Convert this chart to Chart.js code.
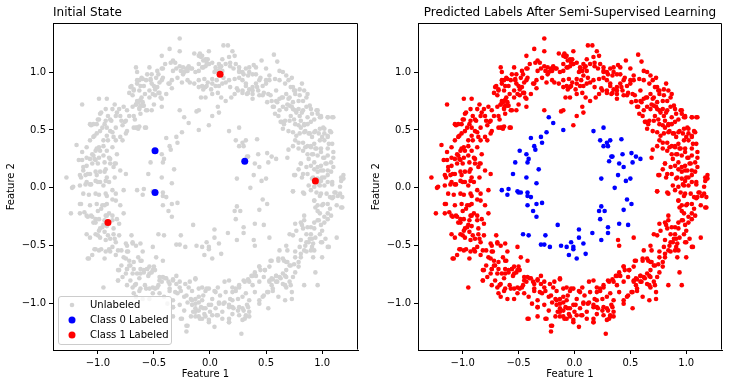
<!DOCTYPE html>
<html><head><meta charset="utf-8">
<script src="https://cdn.jsdelivr.net/npm/chart.js@4"></script>
<style>
html,body{margin:0;padding:0;background:#fff;}
#wrap{position:relative;width:729px;height:387px;overflow:hidden;}
#c1{position:absolute;left:0;top:0;}
#c2{position:absolute;left:365px;top:0;}
</style></head><body>
<div id="wrap">
<canvas id="c1" width="365" height="387"></canvas>
<canvas id="c2" width="364" height="387"></canvas>
</div>
<script>
// ---- data ----
const tickValues = [-1.0, -0.5, 0.0, 0.5, 1.0];
const xRange = [-1.40, 1.32];
const yRange = [-1.40, 1.42];

const labeledClass0 = [[-0.49,0.32],[-0.49,-0.04],[0.31,0.23]];
const labeledClass1 = [[0.09,0.98],[0.94,0.06],[-0.91,-0.30]];

const innerRing = [[-0.23,0.61],[-0.19,0.56],[-0.10,0.50],[-0.25,0.48],[-0.30,0.44],[-0.39,0.43],[-0.29,0.39],[-0.36,0.36],[-0.35,0.33],[-0.49,0.32],[-0.43,0.29],[-0.41,0.25],[-0.42,0.22],[-0.53,0.22],[-0.32,0.16],[-0.55,0.12],[-0.43,0.09],[-0.34,0.04],[-0.65,-0.02],[-0.59,-0.01],[-0.60,-0.06],[-0.51,-0.03],[-0.50,-0.04],[-0.48,-0.04],[-0.42,-0.04],[-0.42,-0.07],[-0.39,-0.08],[-0.29,-0.13],[-0.34,-0.14],[-0.42,-0.15],[-0.37,-0.20],[-0.34,-0.25],[-0.15,-0.32],[-0.46,-0.40],[-0.41,-0.41],[-0.26,-0.41],[-0.30,-0.49],[-0.27,-0.49],[-0.22,-0.51],[-0.12,-0.50],[-0.07,-0.51],[-0.03,-0.47],[-0.01,-0.51],[-0.01,-0.53],[-0.05,-0.58],[0.02,-0.61],[0.04,-0.36],[0.04,-0.43],[0.08,-0.48],[0.10,-0.57],[0.16,-0.39],[0.24,-0.45],[0.30,-0.39],[0.30,-0.34],[0.23,-0.27],[0.22,-0.20],[0.24,-0.16],[0.27,-0.20],[0.40,-0.31],[0.48,-0.32],[0.44,-0.19],[0.51,-0.14],[0.47,-0.10],[0.36,0.00],[0.24,0.08],[0.46,0.06],[0.50,0.08],[0.39,0.11],[0.44,0.18],[0.40,0.21],[0.52,0.22],[0.31,0.23],[0.33,0.27],[0.34,0.27],[0.43,0.29],[0.51,0.30],[0.55,0.27],[0.59,0.25],[0.26,0.36],[0.30,0.36],[0.29,0.39],[0.23,0.41],[0.32,0.41],[0.42,0.42],[0.17,0.49],[0.26,0.52]];

const ringTop = [[-0.27,1.29],[-0.36,1.20],[-0.27,1.18],[-0.43,1.14],[-0.33,1.10],[-0.35,1.08],[-0.40,1.07],[-0.31,1.08],[-0.43,1.03],[-0.30,1.03],[-0.27,1.05],[-0.24,1.04],[-0.21,1.03],[-0.19,1.04],[-0.26,1.01],[-0.23,1.00],[-0.20,1.01],[-0.17,1.03],[-0.33,1.01],[-0.66,1.04],[-0.65,1.00],[-0.54,1.04],[-0.52,0.98],[-0.47,1.01],[-0.42,1.03],[-0.42,0.95],[-0.48,0.95],[-0.45,0.91],[-0.53,0.93],[-0.57,0.93],[-0.60,0.94],[-0.63,0.93],[-0.65,0.90],[-0.71,0.87],[-0.68,0.85],[-0.72,0.82],[-0.69,0.80],[-0.63,0.84],[-0.59,0.88],[-0.50,0.88],[-0.47,0.87],[-0.45,0.82],[-0.51,0.81],[-0.54,0.78],[-0.43,0.77],[-0.36,0.90],[-0.34,0.86],[-0.39,0.81],[-0.43,0.70],[-0.29,0.95],[-0.25,0.91],[-0.20,0.93],[-0.14,0.90],[-0.10,0.93],[-0.05,0.94],[-0.02,0.91],[0.02,0.94],[-0.10,1.01],[-0.07,1.04],[-0.04,1.05],[-0.01,1.07],[-0.06,1.10],[-0.02,1.11],[0.02,1.08],[0.05,1.04],[0.07,1.01],[0.08,1.07],[0.10,1.05],[0.11,1.01],[-0.14,1.16],[-0.10,1.14],[-0.08,1.13],[-0.01,1.18],[-0.04,1.11],[0.04,1.00],[0.08,0.97],[0.11,1.11],[0.17,1.13],[0.18,1.08],[0.20,1.18],[0.22,1.14],[0.16,1.23],[0.12,1.23],[0.23,1.07],[0.26,1.04],[0.26,1.01],[0.29,1.00],[0.32,1.03],[0.35,1.00],[0.38,0.98],[0.34,0.97],[0.41,1.04],[0.46,1.10],[0.50,1.03],[0.57,1.15],[0.60,1.09],[0.62,1.01],[0.65,1.00],[0.68,0.97],[0.70,0.93],[0.73,0.95],[0.62,0.93],[0.58,0.94],[0.53,0.93],[0.50,0.90],[0.47,0.88],[0.44,0.93],[0.41,0.90],[0.38,0.87],[0.35,0.85],[0.32,0.90],[0.29,0.93],[0.26,0.95],[0.22,0.94],[0.17,0.93],[0.14,0.91],[0.11,0.90],[0.08,0.88],[0.05,0.88],[0.01,0.85],[-0.04,0.87],[-0.06,0.85],[-0.10,0.87],[-0.08,0.78],[-0.04,0.78],[0.02,0.81],[0.07,0.82],[0.10,0.78],[0.14,0.75],[0.19,0.78],[0.22,0.81],[0.25,0.84],[0.29,0.84],[0.34,0.82],[0.38,0.81],[0.43,0.84],[0.47,0.80],[0.52,0.81],[0.55,0.75],[0.59,0.75],[0.62,0.77],[0.65,0.78],[0.68,0.81],[0.71,0.78],[0.76,0.81],[0.80,0.80],[0.82,0.90],[0.80,0.85],[0.74,0.87],[0.76,0.84],[0.84,0.84],[0.87,0.81],[0.86,0.78],[0.83,0.75],[0.79,0.75],[0.74,0.74],[0.71,0.71],[0.68,0.68],[0.65,0.70],[0.62,0.67],[0.61,0.62],[0.58,0.64],[0.56,0.70],[0.74,0.68],[0.77,0.65],[0.80,0.62],[0.83,0.67],[0.86,0.70],[0.89,0.71],[0.90,0.68],[0.95,0.67],[0.96,0.64],[0.98,0.61],[0.99,0.62],[1.05,0.61],[1.10,0.61],[0.93,0.59],[0.90,0.57],[0.87,0.55],[0.84,0.54],[0.81,0.52],[0.79,0.54],[0.76,0.55],[0.71,0.58],[0.67,0.58],[0.64,0.57],[0.65,0.51],[0.70,0.49],[0.74,0.48],[0.77,0.45],[0.80,0.47],[0.84,0.48],[0.89,0.47],[0.93,0.48],[0.98,0.51],[1.01,0.52],[1.02,0.47],[1.07,0.49],[1.05,0.44],[1.02,0.41],[0.98,0.41],[0.93,0.38],[0.90,0.35],[0.87,0.36],[0.83,0.39],[0.79,0.39],[0.76,0.41],[0.74,0.36],[0.79,0.34],[0.83,0.32],[0.87,0.29],[0.92,0.29],[0.96,0.28],[1.01,0.26],[1.05,0.28],[1.10,0.26],[1.10,0.31],[1.05,0.34],[0.99,0.34],[0.95,0.34],[0.99,0.19],[1.04,0.21],[1.08,0.22],[1.10,0.18],[1.05,0.15],[1.01,0.15],[0.96,0.14],[0.93,0.16],[0.90,0.19],[0.86,0.18],[0.81,0.21],[0.79,0.16],[0.83,0.12],[0.87,0.12],[0.92,0.09],[0.96,0.08],[0.99,0.06],[1.02,0.09],[1.05,0.11],[1.02,0.02],[0.98,0.02],[0.93,0.01],[0.90,-0.02],[0.95,-0.04],[0.99,-0.05],[1.04,-0.05],[1.07,-0.08],[1.11,-0.04],[1.14,-0.07],[1.16,0.01],[1.17,0.09],[1.17,0.06],[1.09,0.05],[0.83,-0.04],[0.74,-0.03],[0.76,0.11],[0.02,0.62],[0.08,0.65],[0.07,0.70],[-0.01,0.54],[-0.10,0.67],[-0.12,0.66],[-0.27,0.67]];

const ringLeft = [[-0.99,0.77],[-0.92,0.77],[-1.14,0.72],[-1.19,0.37],[-1.28,0.09],[-1.07,0.55],[-1.04,0.55],[-1.01,0.55],[-0.99,0.59],[-0.98,0.64],[-0.93,0.68],[-0.87,0.68],[-0.85,0.72],[-0.81,0.68],[-0.80,0.62],[-0.84,0.62],[-0.89,0.59],[-0.93,0.58],[-0.96,0.52],[-1.01,0.47],[-1.04,0.44],[-1.07,0.41],[-1.10,0.35],[-1.14,0.31],[-1.17,0.24],[-1.14,0.24],[-1.10,0.26],[-1.05,0.29],[-1.02,0.32],[-0.99,0.35],[-0.95,0.41],[-0.92,0.45],[-0.87,0.48],[-0.84,0.52],[-0.78,0.54],[-0.75,0.58],[-0.72,0.62],[-0.74,0.67],[-0.77,0.70],[-0.69,0.70],[-0.66,0.72],[-0.63,0.68],[-0.60,0.71],[-0.57,0.67],[-0.65,0.75],[-0.68,0.62],[-0.66,0.52],[-0.63,0.53],[-0.57,0.52],[-0.75,0.47],[-0.80,0.44],[-0.84,0.41],[-0.87,0.35],[-0.92,0.32],[-0.95,0.28],[-0.99,0.26],[-1.02,0.24],[-1.05,0.21],[-1.10,0.19],[-1.13,0.15],[-1.16,0.11],[-1.11,0.11],[-1.07,0.12],[-1.02,0.14],[-0.98,0.14],[-0.93,0.16],[-0.89,0.21],[-0.84,0.21],[-0.78,0.41],[-0.83,0.29],[-0.90,0.26],[-0.93,0.06],[-0.98,0.05],[-1.02,0.06],[-1.07,0.03],[-1.11,0.03],[-1.16,0.02],[-1.23,0.00],[-0.90,0.05],[-0.84,-0.05],[-0.87,-0.02],[-0.92,-0.07],[-0.77,-0.02],[-0.75,0.12]];

const ringBottom = [[-1.24,-0.22],[-1.16,-0.14],[-1.16,-0.22],[-1.13,-0.05],[-1.08,-0.06],[-1.07,-0.15],[-1.10,-0.24],[-1.02,-0.05],[-0.99,-0.06],[-1.01,-0.14],[-0.96,-0.15],[-0.92,-0.14],[-0.93,-0.05],[-0.87,-0.10],[-0.84,-0.11],[-0.80,-0.15],[-1.05,-0.25],[-1.02,-0.30],[-0.99,-0.27],[-0.94,-0.28],[-0.93,-0.24],[-0.90,-0.22],[-0.87,-0.28],[-0.81,-0.31],[-0.77,-0.22],[-1.10,-0.40],[-1.07,-0.43],[-1.02,-0.40],[-0.99,-0.37],[-0.96,-0.34],[-0.92,-0.33],[-0.98,-0.43],[-0.93,-0.45],[-0.89,-0.44],[-0.86,-0.40],[-0.84,-0.47],[-0.87,-0.51],[-0.82,-0.54],[-1.02,-0.53],[-1.08,-0.61],[-1.05,-0.58],[-0.99,-0.54],[-0.94,-0.61],[-0.90,-0.53],[-0.95,-0.86],[-0.81,-0.71],[-0.77,-0.60],[-0.74,-0.55],[-0.72,-0.63],[-0.75,-0.48],[-0.69,-0.48],[-0.66,-0.50],[-0.62,-0.48],[-0.71,-0.67],[-0.68,-0.70],[-0.69,-0.74],[-0.74,-0.70],[-0.75,-0.74],[-0.78,-0.77],[-0.82,-0.80],[-0.74,-0.84],[-0.69,-0.86],[-0.66,-0.83],[-0.63,-0.78],[-0.62,-0.74],[-0.62,-0.63],[-0.59,-0.71],[-0.56,-0.70],[-0.54,-0.74],[-0.51,-0.71],[-0.50,-0.68],[-0.48,-0.60],[-0.42,-0.63],[-0.51,-0.51],[-0.60,-0.55],[-0.66,-0.94],[-0.68,-0.91],[-0.63,-0.89],[-0.57,-0.87],[-0.60,-0.96],[-0.54,-0.96],[-0.51,-0.91],[-0.51,-0.86],[-0.47,-0.86],[-0.45,-0.80],[-0.42,-0.77],[-0.39,-0.78],[-0.36,-0.83],[-0.33,-0.79],[-0.30,-0.83],[-0.27,-0.81],[-0.45,-0.91],[-0.41,-0.94],[-0.36,-0.89],[-0.33,-0.97],[-0.29,-0.91],[-0.26,-0.89],[-0.23,-0.94],[-0.20,-0.99],[-0.17,-0.96],[-0.19,-0.86],[-0.16,-0.89],[-0.13,-0.79],[-0.10,-0.87],[-0.07,-0.86],[-0.04,-0.89],[-0.01,-0.87],[0.04,-0.89],[0.07,-0.86],[0.13,-0.81],[0.17,-0.80],[0.20,-0.86],[0.23,-0.89],[0.26,-0.86],[0.31,-0.81],[0.34,-0.79],[0.37,-0.76],[0.41,-0.76],[0.44,-0.68],[0.49,-0.71],[0.53,-0.80],[0.56,-0.79],[0.59,-0.76],[0.62,-0.77],[0.65,-0.74],[0.68,-0.77],[0.71,-0.81],[0.74,-0.77],[0.59,-0.81],[0.55,-0.84],[0.56,-0.89],[0.52,-0.90],[0.47,-0.94],[0.44,-1.00],[0.52,-1.04],[0.61,-0.94],[0.67,-0.97],[0.73,-0.96],[0.68,-0.86],[0.76,-0.73],[0.79,-0.68],[0.71,-0.67],[0.68,-0.64],[0.65,-0.61],[0.61,-0.63],[0.55,-0.63],[0.62,-0.54],[0.68,-0.50],[0.71,-0.40],[0.74,-0.41],[0.77,-0.37],[0.76,-0.31],[0.81,-0.30],[0.84,-0.24],[0.83,-0.35],[0.86,-0.40],[0.90,-0.34],[0.93,-0.30],[0.96,-0.28],[0.98,-0.22],[1.02,-0.25],[1.05,-0.22],[1.07,-0.18],[1.01,-0.14],[0.96,-0.15],[0.93,-0.11],[0.98,-0.07],[1.10,-0.08],[1.13,-0.15],[1.17,-0.17],[1.16,-0.05],[0.81,-0.45],[0.86,-0.47],[0.89,-0.44],[0.92,-0.48],[0.90,-0.54],[0.86,-0.55],[0.81,-0.60],[0.80,-0.51],[0.76,-0.55],[0.94,-0.43],[0.98,-0.40],[0.99,-0.47],[1.05,-0.51],[1.13,-0.43],[0.92,-0.60],[0.94,-0.73],[0.96,-0.84],[0.84,-0.84],[0.68,-0.71],[-0.10,-0.94],[-0.13,-1.00],[-0.08,-1.03],[-0.04,-1.04],[0.01,-1.01],[0.05,-1.04],[0.08,-1.00],[0.13,-0.99],[0.17,-1.01],[0.20,-0.97],[0.25,-0.96],[0.29,-0.94],[0.32,-0.91],[0.35,-0.97],[0.34,-1.03],[0.29,-1.04],[0.25,-1.06],[0.20,-1.09],[0.17,-1.13],[0.31,-1.13],[0.32,-1.10],[0.26,-1.10],[0.11,-1.07],[0.07,-1.10],[0.02,-1.10],[-0.01,-1.16],[0.04,-1.20],[-0.05,-1.09],[-0.10,-1.11],[-0.13,-1.07],[-0.16,-1.01],[-0.17,-1.11],[-0.23,-1.06],[-0.26,-1.13],[-0.20,-1.19],[-0.21,-1.24],[-0.33,-1.11],[-0.33,-1.03],[-0.42,-1.13],[-0.38,-1.00],[-0.27,-1.01],[0.28,-1.26],[0.17,-1.16],[-0.07,-1.13],[-0.13,-1.04],[0.20,-1.03]];

const ringExtraTop = [[-0.64,0.74],[-0.62,0.76],[-0.60,0.74],[-0.62,0.71],[-0.66,0.72],[-0.63,0.69],[-0.59,0.71],[-0.61,0.78],[-0.68,0.84],[-0.70,0.88],[-0.65,0.93],[-0.61,0.95],[-0.56,0.98],[-0.53,0.94],[-0.52,0.90],[-0.49,0.85],[-0.46,0.82],[-0.43,0.93],[-0.46,0.98],[-0.37,0.90],[-0.34,0.93],[-0.49,0.80],[-0.50,0.72],[-0.56,0.67],[-0.62,0.64],[-0.67,0.59],[-0.65,0.52],[-0.68,0.52],[-0.74,0.49],[-0.76,0.57],[-0.79,0.58],[-0.83,0.65],[-0.88,0.58],[-0.92,0.52],[-0.89,0.49],[-0.86,0.44],[-0.91,0.41],[-0.95,0.36],[-0.98,0.32],[-1.01,0.34],[-1.04,0.28],[-1.07,0.25],[-1.03,0.25],[-1.00,0.21],[-0.94,0.22],[-0.89,0.25],[-0.85,0.21],[-0.86,0.18],[-0.94,0.14],[-1.01,0.11],[-1.09,0.12],[-1.13,0.18],[-1.15,0.09],[-1.10,0.05],[-1.06,0.03],[-1.00,0.05],[-0.95,0.02],[-0.92,0.09],[-0.85,0.09],[-0.80,0.15],[-1.03,0.45],[-0.98,0.49],[-0.94,0.55],[-0.91,0.62],[-0.97,0.65],[-1.00,0.59],[-1.06,0.54],[-0.19,1.05],[-0.21,1.01],[-0.16,1.03],[-0.13,1.00],[-0.10,1.07],[-0.06,1.04],[-0.03,1.08],[-0.07,1.14],[-0.09,1.16],[-0.24,0.98],[-0.18,0.91],[-0.07,0.88],[-0.03,0.88],[-0.62,0.88],[-0.58,0.81],[-0.54,0.84],[-0.44,0.78],[-0.52,0.67],[-0.58,0.52],[-0.64,0.51],
[0.67,0.90],[0.72,0.87],[0.75,0.84],[0.70,0.77],[0.69,0.72],[0.73,0.70],[0.76,0.67],[0.79,0.68],[0.82,0.65],[0.72,0.62],[0.75,0.59],[0.81,0.58],[0.84,0.55],[0.87,0.61],[0.91,0.64],[0.96,0.67],[0.99,0.61],[1.05,0.61],[1.09,0.61],[0.85,0.49],[0.88,0.47],[0.91,0.44],[0.94,0.49],[0.97,0.47],[1.02,0.51],[1.00,0.44],[1.05,0.45],[1.08,0.48],[1.06,0.38],[1.09,0.38],[0.85,0.35],[0.90,0.36],[0.94,0.34],[0.99,0.31],[1.02,0.26],[0.91,0.29],[0.88,0.25],[0.93,0.22],[0.96,0.18],[0.99,0.15],[1.03,0.21],[1.08,0.14],[1.00,0.09],[1.05,0.05],[1.09,0.03],[0.97,0.03],[0.91,0.08],[0.81,0.21],[0.75,0.11],[0.82,0.09],[0.88,0.02],[1.19,0.11],[1.19,0.08],[0.64,0.78],[0.60,0.74],[0.57,0.70],[0.63,0.57],[0.66,0.55],[0.70,0.33],[0.69,0.26],
[-0.01,1.07],[0.05,1.01],[0.09,1.04],[0.14,1.07],[0.18,1.05],[0.21,1.03],[0.26,1.00],[0.30,0.98],[0.35,1.04],[0.39,1.06],[0.41,0.98],[0.45,0.95],[0.50,0.93],[0.53,0.97],[0.02,0.90],[0.06,0.93],[0.12,0.95],[0.18,0.87],[0.24,0.86],[0.29,0.82],[0.33,0.81],[0.38,0.84],[0.42,0.87],[0.48,0.82],[0.54,0.80],[0.59,0.84],[0.38,0.77],[0.44,0.80],[0.51,0.74],[0.32,0.88]];

const ringExtraBottom = [[-1.22,0.01],[-1.15,-0.14],[-1.12,-0.21],[-1.09,-0.25],[-1.06,-0.24],[-1.04,-0.30],[-1.02,-0.27],[-1.00,-0.20],[-0.97,-0.18],[-0.94,-0.15],[-0.92,-0.24],[-0.95,-0.32],[-0.98,-0.35],[-0.94,-0.38],[-0.91,-0.41],[-0.86,-0.35],[-0.83,-0.27],[-0.87,-0.24],[-0.85,-0.44],[-0.81,-0.41],[-1.00,-0.41],[-1.03,-0.53],[-0.97,-0.53],[-0.93,-0.55],[-0.89,-0.55],[-0.84,-0.58],[-0.79,-0.54],[-0.74,-0.50],[-0.70,-0.41],[-0.69,-0.47],[-0.73,-0.55],[-0.75,-0.61],[-0.79,-0.67],[-0.74,-0.70],[-0.72,-0.67],[-0.68,-0.64],[-0.64,-0.60],[-0.61,-0.63],[-0.62,-0.70],[-0.65,-0.74],[-0.59,-0.73],[-0.56,-0.70],[-0.54,-0.68],[-0.52,-0.73],[-0.55,-0.76],[-0.49,-0.71],[-0.71,-0.80],[-0.67,-0.84],[-0.62,-0.87],[-0.58,-0.84],[-0.54,-0.87],[-0.49,-0.87],[-0.46,-0.84],[-0.43,-0.81],[-0.45,-0.77],[-0.40,-0.78],[-0.37,-0.81],[-0.33,-0.80],[-0.30,-0.76],[-0.36,-0.87],[-0.31,-0.90],[-0.27,-0.86],[-0.22,-0.83],[-0.18,-0.81],[-0.13,-0.78],[-0.21,-0.93],[-0.16,-0.97],[-0.13,-0.96],[-0.10,-0.99],[-0.07,-0.97],[-0.06,-0.93],[-0.03,-0.87],[-0.01,-1.01],[-0.06,-1.04],[-0.10,-1.06],[-0.15,-1.07],[-0.13,-1.11],[-0.09,-1.13],[-0.04,-1.11],[-0.01,-1.14],[-0.41,-1.13],[-0.33,-1.03],[-0.25,-1.13],[-0.21,-1.19],[-0.82,-0.80],[-0.82,-0.71],[-1.09,-0.61],
[0.74,-0.03],[0.84,-0.05],[0.93,-0.11],[0.94,-0.17],[0.96,-0.20],[1.00,-0.15],[1.05,-0.14],[1.09,-0.09],[1.12,-0.04],[1.18,-0.08],[1.18,-0.17],[1.08,-0.24],[1.05,-0.27],[1.02,-0.30],[0.99,-0.32],[0.97,-0.28],[0.93,-0.35],[0.90,-0.40],[0.91,-0.44],[0.88,-0.47],[0.85,-0.50],[0.91,-0.51],[0.93,-0.54],[0.84,-0.54],[0.81,-0.57],[0.76,-0.60],[0.79,-0.64],[0.75,-0.66],[0.72,-0.67],[0.69,-0.64],[0.66,-0.63],[0.61,-0.61],[0.69,-0.54],[0.82,-0.32],[0.84,-0.28],[0.87,-0.34],[1.00,-0.37],[1.03,-0.44],[1.06,-0.51],[1.00,-0.47],[1.00,-0.60],[0.67,-0.76],[0.63,-0.78],[0.59,-0.76],[0.55,-0.78],[0.53,-0.81],[0.60,-0.81],[0.65,-0.83],[0.67,-0.84],[0.72,-0.84],[0.73,-0.90],[0.56,-0.87],[0.51,-0.90],[0.48,-0.93],[0.44,-0.97],[0.40,-0.90],[0.38,-0.84],[0.35,-0.81],[0.30,-0.80],[0.26,-0.84],[0.23,-0.87],[0.20,-0.90],[0.18,-0.96],[0.14,-0.90],[0.09,-0.93],[0.05,-0.90],[0.02,-0.96],[0.08,-0.99],[0.12,-1.00],[0.17,-1.03],[0.21,-1.04],[0.26,-1.03],[0.30,-1.06],[0.33,-1.01],[0.35,-1.07],[0.32,-1.11],[0.35,-1.11],[0.29,-1.14],[0.00,-1.07],[0.06,-1.10],[0.11,-1.13],[0.17,-1.16],[0.44,-0.81],[0.48,-0.77],[0.38,-0.76],[0.40,-0.73],[0.45,-0.71],[0.49,-0.71],[0.53,-0.68],[0.44,-0.68],[0.54,-0.63],[0.53,-0.43],[0.39,-0.45],[0.40,-0.50]];

// ---- helpers ----
const toPts = arr => arr.map(p => ({x: p[0], y: p[1]}));
const outerRing = [].concat(ringTop, ringLeft, ringBottom, ringExtraTop, ringExtraBottom);
const allPoints = outerRing.concat(innerRing);
const FONT = 'DejaVu Sans';
Chart.defaults.font.family = FONT;
Chart.defaults.color = '#000';

function fmt(v){ const s = Math.abs(v).toFixed(1); return v < -1e-9 ? '\u2212' + s : s; }

function axis(title, isX){
  return {
    type: 'linear', position: isX ? 'bottom' : 'left',
    min: isX ? xRange[0] : yRange[0], max: isX ? xRange[1] : yRange[1],
    afterBuildTicks: s => { s.ticks = tickValues.map(v => ({value: v})); },
    afterFit: s => { if (isX) s.height = 37; else s.width = 53; },
    grid: {drawOnChartArea: false, drawTicks: true, tickLength: 4, color: '#000', lineWidth: 1},
    border: {display: true, color: '#000', width: 1},
    ticks: {color: '#000', font: {family: FONT, size: 10}, padding: 3, autoSkip: false, maxRotation: 0,
            callback: v => fmt(v)},
    title: {display: true, text: title, color: '#000', font: {family: FONT, size: 10},
            padding: isX ? {top: 0, bottom: 7} : {top: 5, bottom: 0}}
  };
}

const framePlugin = {
  id: 'frame',
  afterDraw(chart){
    const a = chart.chartArea, c = chart.ctx;
    c.save(); c.strokeStyle = '#000'; c.lineWidth = 1;
    const l = Math.round(a.left) + 0.5, t = Math.round(a.top) + 0.5;
    const r = Math.round(a.right) - 0.5, b = Math.round(a.bottom) - 0.5;
    c.beginPath(); c.moveTo(l, t); c.lineTo(r, t); c.lineTo(r, b); c.stroke();
    c.restore();
  }
};

const legendPlugin = {
  id: 'boxLegend',
  afterDraw(chart){
    const a = chart.chartArea, c = chart.ctx;
    const w = 113, h = 48, x0 = Math.round(a.left) + 5.5, y0 = Math.round(a.bottom) - 5.5 - h;
    c.save();
    c.beginPath();
    if (c.roundRect) c.roundRect(x0, y0, w, h, 2.5); else c.rect(x0, y0, w, h);
    c.fillStyle = 'rgba(255,255,255,0.8)'; c.fill();
    c.strokeStyle = '#cccccc'; c.lineWidth = 1; c.stroke();
    c.font = '10px "' + FONT + '"'; c.textBaseline = 'middle'; c.fillStyle = '#000';
    chart.data.datasets.forEach((ds, i) => {
      const yy = y0 + 8.5 + i * 15;
      c.beginPath(); c.fillStyle = ds.backgroundColor;
      c.arc(x0 + 13.5, yy, ds.pointRadius, 0, Math.PI * 2); c.fill();
      c.fillStyle = '#000'; c.fillText(ds.label, x0 + 31.5, yy + 0.5);
    });
    c.restore();
  }
};

function baseOptions(titleText, titleAlign){
  return {
    responsive: false, animation: false, events: [],
    layout: {padding: {left: 0, right: 7, top: 0, bottom: 0}},
    scales: {x: axis('Feature 1', true), y: axis('Feature 2', false)},
    plugins: {
      legend: {display: false}, tooltip: {enabled: false},
      title: {display: true, text: titleText, align: titleAlign, fullSize: false, color: '#000',
              font: {family: FONT, size: 12, weight: 'normal'}, padding: {top: 6, bottom: 3}}
    }
  };
}

function ds(label, pts, color, r, order){
  return {label: label, data: toPts(pts), backgroundColor: color, borderColor: color,
          pointRadius: r, pointBorderWidth: 0, pointHoverRadius: r, order: order};
}

new Chart(document.getElementById('c1'), {
  type: 'scatter',
  data: {datasets: [
    ds('Unlabeled', allPoints, '#d3d3d3', 2.3, 3),
    ds('Class 0 Labeled', labeledClass0, '#0000ff', 3.5, 2),
    ds('Class 1 Labeled', labeledClass1, '#ff0000', 3.5, 1)
  ]},
  options: baseOptions('Initial State', 'start'),
  plugins: [framePlugin, legendPlugin]
});

new Chart(document.getElementById('c2'), {
  type: 'scatter',
  data: {datasets: [
    ds('Class 1', outerRing, '#ff0000', 2.3, 2),
    ds('Class 0', innerRing, '#0000ff', 2.3, 1)
  ]},
  options: baseOptions('Predicted Labels After Semi-Supervised Learning', 'center'),
  plugins: [framePlugin]
});
</script>
</body></html>
